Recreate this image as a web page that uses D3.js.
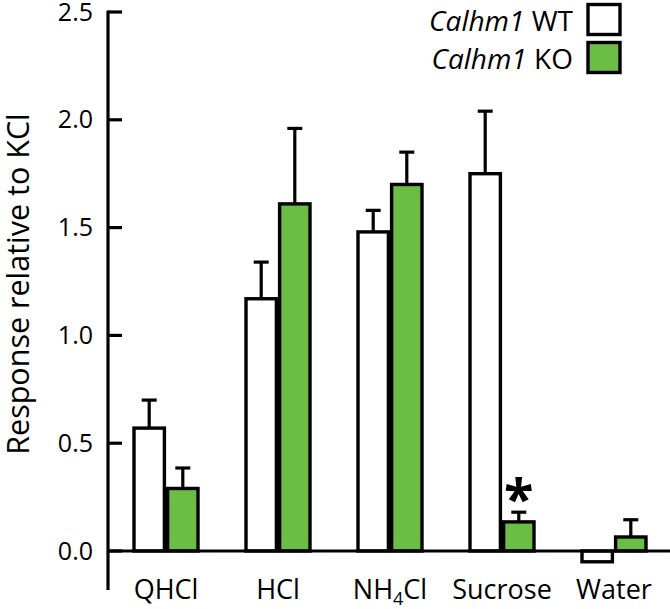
<!DOCTYPE html>
<html><head><meta charset="utf-8">
<script src="https://cdn.jsdelivr.net/npm/d3@7"></script>
<style>body{margin:0;background:#fff}svg{display:block}text{font-family:"Open Sans",sans-serif}</style>
</head><body><svg id="c" width="670" height="609"></svg>
<script>
const categories = ["QHCl","HCl","NH4Cl","Sucrose","Water"];
const series = ["WT","KO"];
const wtValues = [0.57, 1.17, 1.48, 1.75, -0.05];
const wtErrors = [0.13, 0.17, 0.10, 0.29, 0];
const koValues = [0.29, 1.61, 1.70, 0.135, 0.065];
const koErrors = [0.095, 0.35, 0.15, 0.045, 0.08];
const yTicks = [0, 0.5, 1.0, 1.5, 2.0, 2.5];
const significant = [{cat:"Sucrose", series:"KO"}];

const svg = d3.select("#c");
const y = d3.scaleLinear().domain([0, 2.5]).range([551, 12]);
const x = d3.scaleBand().domain(categories).range([110, 670]).paddingInner(0.4).paddingOuter(0.2);
const xs = d3.scaleBand().domain(series).range([0, x.bandwidth()]);
const colors = {WT:"#ffffff", KO:"#6cbd45"};

const data = [];
categories.forEach((c,i)=>{
  data.push({cat:c, s:"WT", v:wtValues[i], e:wtErrors[i]});
  data.push({cat:c, s:"KO", v:koValues[i], e:koErrors[i]});
});

// error bars (drawn first, so bars cover stems)
const eb = svg.append("g").attr("stroke","#000").attr("stroke-width",3.2);
data.filter(d=>d.e>0 && d.v>0).forEach(d=>{
  const cx = x(d.cat)+xs(d.s)+xs.bandwidth()/2;
  eb.append("line").attr("x1",cx).attr("x2",cx).attr("y1",y(d.v)).attr("y2",y(d.v+d.e));
  eb.append("line").attr("x1",cx-7.5).attr("x2",cx+7.5).attr("y1",y(d.v+d.e)).attr("y2",y(d.v+d.e));
});

// bars
svg.append("g").selectAll("rect").data(data).join("rect")
  .attr("x", d=>x(d.cat)+xs(d.s)+1.6)
  .attr("width", xs.bandwidth()-3.2)
  .attr("y", d=>Math.min(y(d.v), y(0)))
  .attr("height", d=>Math.abs(y(d.v)-y(0)))
  .attr("fill", d=>colors[d.s]).attr("stroke","#000").attr("stroke-width",3.4);

// axes
const ax = svg.append("g").attr("stroke","#000").attr("stroke-width",3.2);
ax.append("line").attr("x1",108).attr("x2",108).attr("y1",y(2.5)-1.5).attr("y2",590);
ax.append("line").attr("x1",108).attr("x2",670).attr("y1",y(0)).attr("y2",y(0));
const yAxis = d3.axisLeft(y).tickValues(yTicks).tickFormat(d3.format(".1f")).tickSize(0).tickPadding(15);
const gy = svg.append("g").attr("transform","translate(108,0)").call(yAxis);
gy.select(".domain").remove();
gy.selectAll("text").attr("font-size",25).attr("fill","#000").attr("font-family","'Open Sans',sans-serif");
yTicks.forEach(t=>{
  ax.append("line").attr("x1",108).attr("x2",122).attr("y1",y(t)).attr("y2",y(t));
});

// x labels
const xl = svg.append("g");
categories.forEach(c=>{
  const t = xl.append("text").attr("x", x(c)+x.bandwidth()/2).attr("y",599)
    .attr("text-anchor","middle").attr("font-size",27).attr("fill","#000");
  if (c==="NH4Cl") {
    t.append("tspan").text("NH");
    t.append("tspan").text("4").attr("font-size",18).attr("dy",6);
    t.append("tspan").text("Cl").attr("dy",-6);
  } else t.text(c);
});

// y label
svg.append("text").attr("transform","translate(29,284) rotate(-90)")
  .attr("text-anchor","middle").attr("font-size",30.5).attr("fill","#000")
  .text("Response relative to KCl");

// significance
significant.forEach(s=>{
  const i = categories.indexOf(s.cat);
  const v = (s.series==="KO"?koValues:wtValues)[i] + (s.series==="KO"?koErrors:wtErrors)[i];
  svg.append("text").attr("x", x(s.cat)+xs(s.series)+xs.bandwidth()/2).attr("y", y(v)+6)
    .attr("text-anchor","middle").attr("font-size",54).attr("font-weight","bold").attr("fill","#000").text("*");
});

// legend
const lg = svg.append("g");
[["WT",3],["KO",41]].forEach(([s,yy])=>{
  lg.append("rect").attr("x",588).attr("y",yy+1.5).attr("width",32).attr("height",30)
    .attr("fill",colors[s]).attr("stroke","#000").attr("stroke-width",3.4);
  const t = lg.append("text").attr("x",573).attr("y",yy+28).attr("text-anchor","end").attr("font-size",28).attr("fill","#000");
  t.append("tspan").attr("font-style","italic").text("Calhm1");
  t.append("tspan").text(" "+s);
});
</script></body></html>
